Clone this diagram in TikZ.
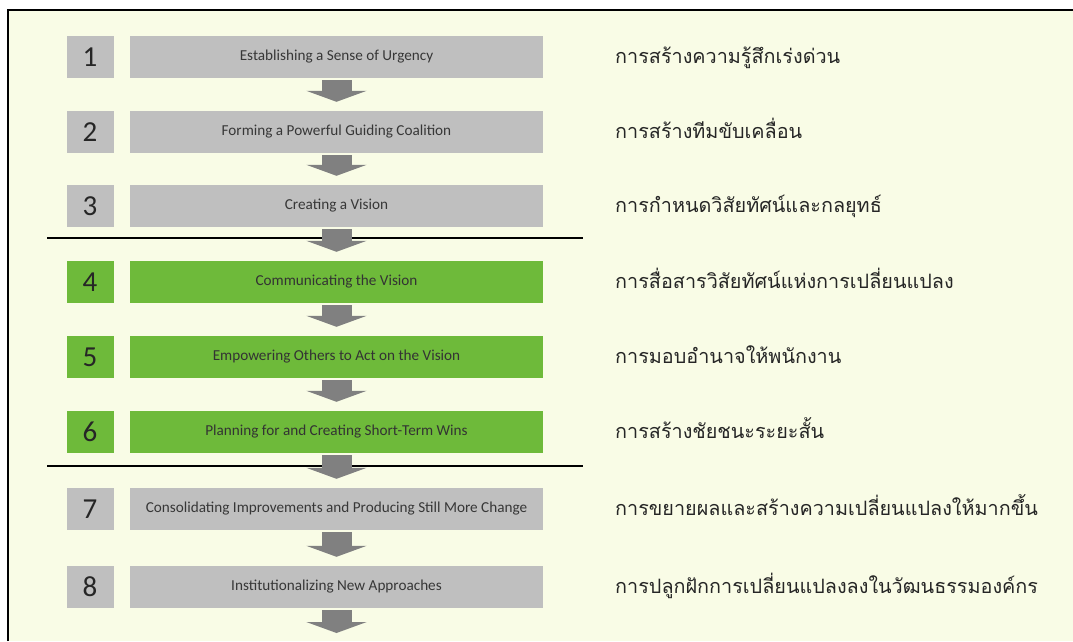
\documentclass[tikz,border=0pt]{standalone}
\usepackage{fontspec}
\setmainfont{Carlito}
\newfontfamily\thaifont[Script=Thai]{Loma}
\usetikzlibrary{arrows.meta}
\definecolor{bgyellow}{RGB}{249,252,230}
\definecolor{boxgray}{RGB}{191,191,191}
\definecolor{stepgreen}{RGB}{110,186,58}
\definecolor{arrowgray}{RGB}{128,128,128}
\definecolor{textgray}{RGB}{55,55,55}
\begin{document}
\begin{tikzpicture}[
        x=1pt,
        y=-1pt
    ]
    \tikzset{
        numbox/.style = {fill=boxgray, minimum width=47pt, minimum height=42pt, inner sep=0pt, text=black!85, font=\fontsize{29}{29}\selectfont},
        numboxg/.style = {numbox, fill=stepgreen},
        stepbox/.style = {fill=boxgray, minimum width=413pt, minimum height=42pt, inner sep=0pt, text=textgray, font=\fontsize{15.2}{17}\selectfont},
        stepboxg/.style = {stepbox, fill=stepgreen, text=black!80},
        thaitext/.style = {anchor=base west, inner sep=0pt, text=black!85, font=\thaifont\fontsize{19.8}{24}\selectfont},
        bigarrow/.style = {draw=arrowgray, line width=30pt, -{Triangle[length=11pt, width=60pt]}},
        divider/.style = {line width=1.5pt, black},
    }
    \useasboundingbox (0,0) rectangle (1073,641);
    \fill[bgyellow] (8,10) rectangle (1073,641);
    \draw[line width=2.5pt] (8,641) -- (8,10) -- (1073,10);
    %
    \node[numbox] at (90,57) (n1) {1};
    \node[numbox] at (90,132) (n2) {2};
    \node[numbox] at (90,206) (n3) {3};
    \node[numboxg] at (90,282) (n4) {4};
    \node[numboxg] at (90,357) (n5) {5};
    \node[numboxg] at (90,432) (n6) {6};
    \node[numbox] at (90,509) (n7) {7};
    \node[numbox] at (90,587) (n8) {8};
    %
    \node[stepbox] at (336.5,57) (s1) {Establishing a Sense of Urgency};
    \node[stepbox] at (336.5,132) (s2) {Forming a Powerful Guiding Coalition};
    \node[stepbox] at (336.5,206) (s3) {Creating a Vision};
    \node[stepboxg] at (336.5,282) (s4) {Communicating the Vision};
    \node[stepboxg] at (336.5,357) (s5) {Empowering Others to Act on the Vision};
    \node[stepboxg] at (336.5,432) (s6) {Planning for and Creating Short-Term Wins};
    \node[stepbox] at (336.5,509) (s7) {Consolidating Improvements and Producing Still More Change};
    \node[stepbox] at (336.5,587) (s8) {Institutionalizing New Approaches};
    \coordinate (endpt) at (333,633);
    %
    \node[thaitext] at (615,63.5) (t1) {การสร้างความรู้สึกเร่งด่วน};
    \node[thaitext] at (615,138.5) (t2) {การสร้างทีมขับเคลื่อน};
    \node[thaitext] at (615,212.5) (t3) {การกำหนดวิสัยทัศน์และกลยุทธ์};
    \node[thaitext] at (615,288.5) (t4) {การสื่อสารวิสัยทัศน์แห่งการเปลี่ยนแปลง};
    \node[thaitext] at (615,363.5) (t5) {การมอบอำนาจให้พนักงาน};
    \node[thaitext] at (615,438.5) (t6) {การสร้างชัยชนะระยะสั้น};
    \node[thaitext] at (615,515.5) (t7) {การขยายผลและสร้างความเปลี่ยนแปลงให้มากขึ้น};
    \node[thaitext] at (615,593.5) (t8) {การปลูกฝักการเปลี่ยนแปลงลงในวัฒนธรรมองค์กร};
    %
    \draw[divider] (47,238) -- (583,238);
    \draw[divider] (47,466) -- (583,466);
    %
    \draw[bigarrow] ([yshift=-2pt]s1.south) -- ([yshift=9pt]s2.north);
    \draw[bigarrow] ([yshift=-2pt]s2.south) -- ([yshift=9pt]s3.north);
    \draw[bigarrow] ([yshift=-2pt]s3.south) -- ([yshift=9pt]s4.north);
    \draw[bigarrow] ([yshift=-2pt]s4.south) -- ([yshift=9pt]s5.north);
    \draw[bigarrow] ([yshift=-2pt]s5.south) -- ([yshift=9pt]s6.north);
    \draw[bigarrow] ([yshift=-2pt]s6.south) -- ([yshift=9pt]s7.north);
    \draw[bigarrow] ([yshift=-2pt]s7.south) -- ([yshift=9pt]s8.north);
    \draw[bigarrow] ([yshift=-2pt]s8.south) -- (s8.south |- endpt);
\end{tikzpicture}
\end{document}
